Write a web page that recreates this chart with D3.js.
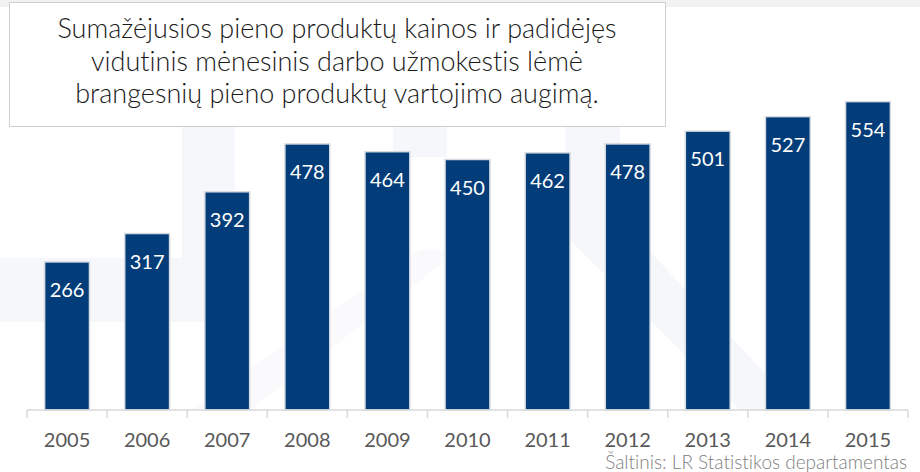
<!DOCTYPE html>
<html>
<head>
<meta charset="utf-8">
<script src="https://cdn.jsdelivr.net/npm/d3@7"></script>
<style>
  html, body { margin: 0; padding: 0; background: #fff; }
  svg { display: block; }
  text { font-variant-ligatures: none; }
</style>
</head>
<body>
<svg id="chart" width="920" height="472"></svg>
<script>
// Vidutinės mėnesinės išlaidos brangesniems pieno produktams, 2005–2015
const years = ["2005", "2006", "2007", "2008", "2009", "2010", "2011", "2012", "2013", "2014", "2015"];
const values = [266, 317, 392, 478, 464, 450, 462, 478, 501, 527, 554];
const titleLines = [
  "Sumažėjusios pieno produktų kainos ir padidėjęs",
  "vidutinis  mėnesinis darbo užmokestis lėmė",
  "brangesnių pieno produktų vartojimo augimą."
];
const sourceText = "Šaltinis: LR Statistikos departamentas";

const W = 920, H = 472;
const margin = { left: 27, right: 12, top: 76, bottom: 62 };
const svg = d3.select("#chart");
const FONT = "Lato, 'Open Sans', sans-serif";

// faint background watermark
const bg = svg.append("g").attr("class", "watermark");
bg.append("rect").attr("x", 0).attr("y", 0).attr("width", W).attr("height", 7).attr("fill", "#f2f2f3");
const wm = "#f6f7fa";
bg.append("rect").attr("x", 182).attr("y", 7).attr("width", 53).attr("height", 258).attr("fill", wm);
bg.append("path").attr("d", "M0,258 L235,258 L235,322 L0,322 Z").attr("fill", wm);
bg.append("rect").attr("x", 393).attr("y", 7).attr("width", 54).attr("height", 150).attr("fill", wm);
bg.append("path").attr("d", "M565,7 L620,7 L620,220 L800,410 L740,410 L565,235 Z").attr("fill", wm);
bg.append("path").attr("d", "M190,410 L420,250 L460,250 L250,410 Z").attr("fill", "#fafafc");

const x = d3.scaleBand()
  .domain(years)
  .range([margin.left, W - margin.right])
  .paddingInner(0.44)
  .paddingOuter(0.22);

const y = d3.scaleLinear()
  .domain([0, 600])
  .range([H - margin.bottom, margin.top]);

// bars
svg.append("g").selectAll("rect")
  .data(values)
  .join("rect")
  .attr("x", (d, i) => x(years[i]))
  .attr("y", d => y(d))
  .attr("width", x.bandwidth())
  .attr("height", d => y(0) - y(d))
  .attr("fill", "#033d79")
  .attr("stroke", "#d6dbe2")
  .attr("stroke-width", 1.5);

// value labels inside the bars
svg.append("g").selectAll("text")
  .data(values)
  .join("text")
  .attr("x", (d, i) => x(years[i]) + x.bandwidth() / 2)
  .attr("y", d => y(d) + 35)
  .attr("text-anchor", "middle")
  .attr("font-family", FONT)
  .attr("font-size", 20)
  .attr("fill", "#ffffff")
  .text(d => d);

// category axis with ticks between bands
const axisY = y(0);
const ax = svg.append("g");
ax.append("line")
  .attr("x1", margin.left).attr("x2", W - margin.right)
  .attr("y1", axisY).attr("y2", axisY)
  .attr("stroke", "#d9d9d9").attr("stroke-width", 1.5);
const edges = d3.range(years.length + 1).map(i => margin.left + i * (W - margin.right - margin.left) / years.length);
ax.selectAll("line.tick")
  .data(edges)
  .join("line")
  .attr("class", "tick")
  .attr("x1", d => d).attr("x2", d => d)
  .attr("y1", axisY).attr("y2", axisY + 8)
  .attr("stroke", "#d9d9d9").attr("stroke-width", 1.5);
ax.selectAll("text")
  .data(years)
  .join("text")
  .attr("x", d => x(d) + x.bandwidth() / 2)
  .attr("y", axisY + 36.5)
  .attr("text-anchor", "middle")
  .attr("font-family", FONT)
  .attr("font-size", 20)
  .attr("fill", "#595959")
  .text(d => d);

// source note
svg.append("text")
  .attr("x", 907)
  .attr("y", 469)
  .attr("text-anchor", "end")
  .attr("font-family", FONT)
  .attr("font-weight", 300)
  .attr("font-size", 19)
  .attr("fill", "#808080")
  .text(sourceText);

// title box
const tb = svg.append("g");
tb.append("rect")
  .attr("x", 9.5).attr("y", 2.5)
  .attr("width", 656).attr("height", 124)
  .attr("fill", "#ffffff")
  .attr("stroke", "#cfcfcf").attr("stroke-width", 1);
tb.selectAll("text")
  .data(titleLines)
  .join("text")
  .attr("x", 337)
  .attr("y", (d, i) => 38 + i * 32.5)
  .attr("text-anchor", "middle")
  .attr("font-family", FONT)
  .attr("font-weight", 300)
  .attr("font-size", 27)
  .attr("fill", "#1a1a1a")
  .text(d => d);
</script>
</body>
</html>
